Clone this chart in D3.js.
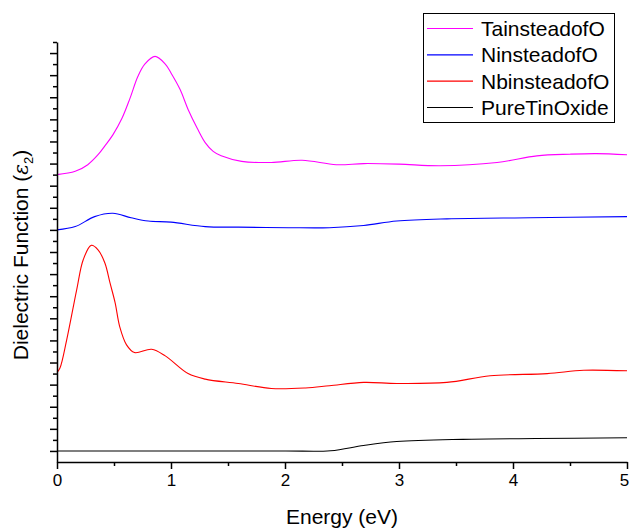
<!DOCTYPE html>
<html>
<head>
<meta charset="utf-8">
<script src="https://cdn.jsdelivr.net/npm/d3@7/dist/d3.min.js"></script>
<style>
  html, body { margin: 0; padding: 0; background: #fff; }
  svg { display: block; font-family: "Liberation Sans", Arial, sans-serif; }
</style>
</head>
<body>
<svg id="chart" width="630" height="528"></svg>
<script>
// Energy samples (eV) and offset ε2 curves for each structure
const taEnergy = [0, 0.16, 0.27, 0.36, 0.42, 0.49, 0.57, 0.64, 0.71, 0.77, 0.86, 0.95, 1.0, 1.08, 1.15, 1.23, 1.30, 1.37, 1.44, 1.62, 1.88, 2.15, 2.45, 2.69, 3.0, 3.36, 3.86, 4.21, 4.5, 4.73, 5.0];
const taValues = [25.0, 25.3, 25.9, 26.8, 27.6, 28.6, 30.1, 31.9, 33.9, 35.0, 35.7, 35.0, 34.2, 32.7, 30.9, 29.2, 27.9, 27.1, 26.7, 26.2, 26.1, 26.3, 25.9, 26.0, 25.95, 25.8, 26.1, 26.7, 26.85, 26.9, 26.8];

const nEnergy = [0, 0.16, 0.33, 0.49, 0.65, 0.80, 1.0, 1.30, 1.59, 2.03, 2.39, 2.69, 2.98, 3.42, 4.15, 5.0];
const nValues = [20.0, 20.3, 21.2, 21.5, 21.1, 20.8, 20.7, 20.3, 20.25, 20.2, 20.2, 20.4, 20.8, 21.0, 21.1, 21.2];

const nbEnergy = [0, 0.026, 0.085, 0.173, 0.23, 0.30, 0.36, 0.42, 0.465, 0.51, 0.55, 0.61, 0.68, 0.83, 0.95, 1.15, 1.30, 1.59, 1.88, 2.18, 2.39, 2.69, 2.98, 3.42, 3.80, 4.30, 4.62, 5.0];
const nbValues = [7.1, 7.5, 10.05, 14.6, 17.3, 18.6, 18.2, 17.0, 15.2, 13.4, 11.25, 9.6, 8.9, 9.2, 8.6, 7.0, 6.5, 6.1, 5.65, 5.7, 5.9, 6.2, 6.1, 6.2, 6.8, 7.0, 7.3, 7.25];

const pureEnergy = [0, 1.0, 2.0, 2.4, 2.69, 2.98, 3.56, 4.2, 5.0];
const pureValues = [0, 0, 0, 0.02, 0.5, 0.85, 1.05, 1.12, 1.2];

const seriesNames = ["TainsteadofO", "NinsteadofO", "NbinsteadofO", "PureTinOxide"];
const seriesColors = ["#ff00ff", "#0000ff", "#ff0000", "#000000"];
const xTicks = [0, 1, 2, 3, 4, 5];

const series = [
  { name: seriesNames[0], color: seriesColors[0], pts: taEnergy.map((e, i) => [e, taValues[i]]) },
  { name: seriesNames[1], color: seriesColors[1], pts: nEnergy.map((e, i) => [e, nValues[i]]) },
  { name: seriesNames[2], color: seriesColors[2], pts: nbEnergy.map((e, i) => [e, nbValues[i]]) },
  { name: seriesNames[3], color: seriesColors[3], pts: pureEnergy.map((e, i) => [e, pureValues[i]]) }
];

const svg = d3.select("#chart");
const x = d3.scaleLinear().domain([0, 5]).range([57, 627]);
const y = d3.scaleLinear().domain([-1, 37]).range([462, 42]);

// curves
const line = d3.line()
  .x(d => x(d[0]))
  .y(d => y(d[1]))
  .curve(d3.curveCatmullRom.alpha(0.5));

svg.append("g").selectAll("path")
  .data(series.slice().reverse())
  .join("path")
  .attr("d", d => line(d.pts))
  .attr("fill", "none")
  .attr("stroke", d => d.color)
  .attr("stroke-width", 1.1);

// x axis: major ticks each eV, minor ticks each 0.5 eV
const xAxisG = svg.append("g").attr("transform", `translate(0,${y(-1)})`);
xAxisG.append("g")
  .call(d3.axisBottom(x).tickValues(d3.range(0.5, 5, 1)).tickSize(4).tickFormat(""))
  .call(g => g.select(".domain").remove());
xAxisG.append("g")
  .call(d3.axisBottom(x).tickValues(xTicks).tickSize(7).tickSizeOuter(0).tickPadding(5).tickFormat(d3.format("d")))
  .call(g => g.selectAll("text").attr("font-size", 17).attr("fill", "#000").attr("font-family", "Liberation Sans, Arial, sans-serif"))
  .call(g => g.selectAll("text").filter(d => d === 5).attr("dx", -3));
xAxisG.selectAll("line, path").attr("stroke", "#000").attr("stroke-width", 1.5);

// y axis: unlabelled, major ticks on even units, minor on odd units
const yAxisG = svg.append("g").attr("transform", `translate(${x(0)},0)`);
yAxisG.append("g")
  .call(d3.axisLeft(y).tickValues(d3.range(1, 38, 2)).tickSize(4).tickFormat(""))
  .call(g => g.select(".domain").remove());
yAxisG.append("g")
  .call(d3.axisLeft(y).tickValues(d3.range(0, 37, 2)).tickSize(7).tickSizeOuter(0).tickFormat(""));
yAxisG.selectAll("line, path").attr("stroke", "#000").attr("stroke-width", 1.5);

// axis titles
svg.append("text")
  .attr("x", (x(0) + x(5)) / 2)
  .attr("y", 524)
  .attr("text-anchor", "middle")
  .attr("font-size", 21)
  .text("Energy (eV)");

const yTitle = svg.append("text")
  .attr("transform", `translate(28,${(y(-1) + y(37)) / 2 + 3}) rotate(-90)`)
  .attr("text-anchor", "middle")
  .attr("font-size", 21);
yTitle.append("tspan").text("Dielectric Function (");
yTitle.append("tspan").attr("font-style", "italic").attr("font-family", "DejaVu Serif, serif").attr("font-size", 20).text("ε");
yTitle.append("tspan").attr("font-size", 13).attr("dy", 5).text("2");
yTitle.append("tspan").attr("dy", -5).text(")");

// legend
const legend = svg.append("g");
legend.append("rect")
  .attr("x", 423.5).attr("y", 13.5)
  .attr("width", 191).attr("height", 109)
  .attr("fill", "#fff").attr("stroke", "#000").attr("stroke-width", 1);

const rowY = d3.scaleLinear().domain([0, 3]).range([28.5, 107.5]);
const items = legend.selectAll("g.item").data(series).join("g").attr("class", "item");
items.append("line")
  .attr("x1", 427).attr("x2", 473)
  .attr("y1", (d, i) => rowY(i)).attr("y2", (d, i) => rowY(i))
  .attr("stroke", d => d.color).attr("stroke-width", 1.2);
items.append("text")
  .attr("x", 481)
  .attr("y", (d, i) => rowY(i) + 7.5)
  .attr("font-size", 21)
  .text(d => d.name);
</script>
</body>
</html>
